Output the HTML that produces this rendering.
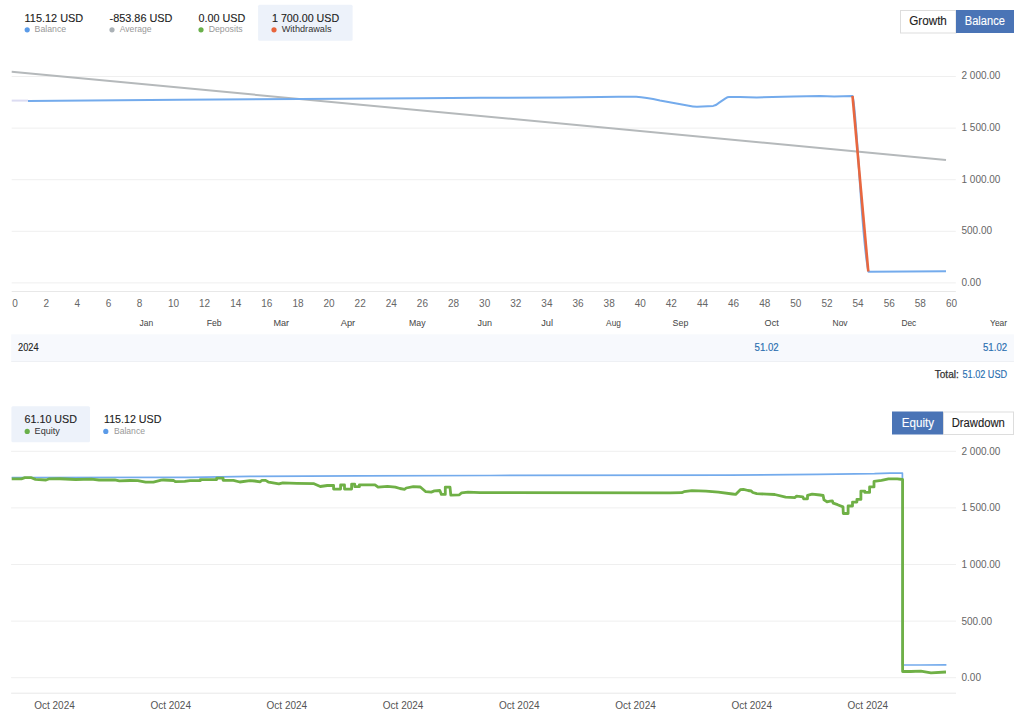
<!DOCTYPE html>
<html><head><meta charset="utf-8"><style>
html,body{margin:0;padding:0;background:#fff;width:1024px;height:715px;overflow:hidden}
svg{display:block;font-family:"Liberation Sans", sans-serif}
</style></head><body>
<svg width="1024" height="715" viewBox="0 0 1024 715">
<rect x="258.10" y="4.80" width="94.50" height="36.00" fill="#edf2fa" rx="1.5"/>
<text x="24.60" y="21.90" font-size="11" fill="#222" stroke="#222" stroke-width="0.12" font-weight="normal" textLength="58.60" lengthAdjust="spacingAndGlyphs">115.12 USD</text>
<text x="34.60" y="32.20" font-size="9" fill="#999" font-weight="normal" textLength="31.60" lengthAdjust="spacingAndGlyphs">Balance</text>
<circle cx="27.2" cy="29.8" r="2.6" fill="#5b9be8"/>
<text x="109.60" y="21.90" font-size="11" fill="#222" stroke="#222" stroke-width="0.12" font-weight="normal" textLength="62.80" lengthAdjust="spacingAndGlyphs">-853.86 USD</text>
<text x="119.80" y="32.20" font-size="9" fill="#999" font-weight="normal" textLength="31.70" lengthAdjust="spacingAndGlyphs">Average</text>
<circle cx="112" cy="29.8" r="2.6" fill="#aab1b6"/>
<text x="198.50" y="21.90" font-size="11" fill="#222" stroke="#222" stroke-width="0.12" font-weight="normal" textLength="46.80" lengthAdjust="spacingAndGlyphs">0.00 USD</text>
<text x="208.70" y="32.20" font-size="9" fill="#999" font-weight="normal" textLength="34.00" lengthAdjust="spacingAndGlyphs">Deposits</text>
<circle cx="201" cy="29.8" r="2.6" fill="#6ab04a"/>
<text x="272.00" y="21.90" font-size="11" fill="#222" stroke="#222" stroke-width="0.12" font-weight="normal" textLength="67.20" lengthAdjust="spacingAndGlyphs">1 700.00 USD</text>
<text x="281.70" y="32.20" font-size="9" fill="#333" font-weight="normal" textLength="49.90" lengthAdjust="spacingAndGlyphs">Withdrawals</text>
<circle cx="274" cy="29.8" r="2.6" fill="#e8643c"/>
<rect x="900.50" y="10.50" width="55.50" height="22.50" fill="#ffffff" stroke="#dddddd" stroke-width="1" rx="0"/>
<rect x="956.00" y="10.00" width="58.00" height="23.00" fill="#4a74b6" rx="0"/>
<text x="909.20" y="25.30" font-size="12" fill="#222" stroke="#222" stroke-width="0.12" font-weight="normal" textLength="37.70" lengthAdjust="spacingAndGlyphs">Growth</text>
<text x="964.80" y="25.30" font-size="12" fill="#ffffff" stroke="#ffffff" stroke-width="0.12" font-weight="normal" textLength="40.10" lengthAdjust="spacingAndGlyphs">Balance</text>
<line x1="11.7" y1="76.5" x2="955.8" y2="76.5" stroke="#efefef" stroke-width="1"/>
<line x1="11.7" y1="128.1" x2="955.8" y2="128.1" stroke="#efefef" stroke-width="1"/>
<line x1="11.7" y1="179.7" x2="955.8" y2="179.7" stroke="#efefef" stroke-width="1"/>
<line x1="11.7" y1="231.3" x2="955.8" y2="231.3" stroke="#efefef" stroke-width="1"/>
<line x1="11.7" y1="282.9" x2="955.8" y2="282.9" stroke="#efefef" stroke-width="1"/>
<line x1="11.7" y1="291.5" x2="955.8" y2="291.5" stroke="#e8e8e8" stroke-width="1"/>
<text x="961.5" y="79.05" font-size="10" fill="#666">2 000.00</text>
<text x="961.5" y="130.65" font-size="10" fill="#666">1 500.00</text>
<text x="961.5" y="182.75" font-size="10" fill="#666">1 000.00</text>
<text x="961.5" y="234.15" font-size="10" fill="#666">500.00</text>
<text x="961.5" y="286.10" font-size="10" fill="#666">0.00</text>
<text x="12.30" y="306.9" font-size="10" fill="#666">0</text>
<text x="43.42" y="306.9" font-size="10" fill="#666">2</text>
<text x="74.54" y="306.9" font-size="10" fill="#666">4</text>
<text x="105.66" y="306.9" font-size="10" fill="#666">6</text>
<text x="136.78" y="306.9" font-size="10" fill="#666">8</text>
<text x="167.90" y="306.9" font-size="10" fill="#666">10</text>
<text x="199.02" y="306.9" font-size="10" fill="#666">12</text>
<text x="230.14" y="306.9" font-size="10" fill="#666">14</text>
<text x="261.26" y="306.9" font-size="10" fill="#666">16</text>
<text x="292.38" y="306.9" font-size="10" fill="#666">18</text>
<text x="323.50" y="306.9" font-size="10" fill="#666">20</text>
<text x="354.62" y="306.9" font-size="10" fill="#666">22</text>
<text x="385.74" y="306.9" font-size="10" fill="#666">24</text>
<text x="416.86" y="306.9" font-size="10" fill="#666">26</text>
<text x="447.98" y="306.9" font-size="10" fill="#666">28</text>
<text x="479.10" y="306.9" font-size="10" fill="#666">30</text>
<text x="510.22" y="306.9" font-size="10" fill="#666">32</text>
<text x="541.34" y="306.9" font-size="10" fill="#666">34</text>
<text x="572.46" y="306.9" font-size="10" fill="#666">36</text>
<text x="603.58" y="306.9" font-size="10" fill="#666">38</text>
<text x="634.70" y="306.9" font-size="10" fill="#666">40</text>
<text x="665.82" y="306.9" font-size="10" fill="#666">42</text>
<text x="696.94" y="306.9" font-size="10" fill="#666">44</text>
<text x="728.06" y="306.9" font-size="10" fill="#666">46</text>
<text x="759.18" y="306.9" font-size="10" fill="#666">48</text>
<text x="790.30" y="306.9" font-size="10" fill="#666">50</text>
<text x="821.42" y="306.9" font-size="10" fill="#666">52</text>
<text x="852.54" y="306.9" font-size="10" fill="#666">54</text>
<text x="883.66" y="306.9" font-size="10" fill="#666">56</text>
<text x="914.78" y="306.9" font-size="10" fill="#666">58</text>
<text x="945.90" y="306.9" font-size="10" fill="#666">60</text>
<text x="139.50" y="325.90" font-size="9.8" fill="#4a4a4a" stroke="#4a4a4a" stroke-width="0.05" font-weight="normal" textLength="13.70" lengthAdjust="spacingAndGlyphs">Jan</text>
<text x="206.70" y="325.90" font-size="9.8" fill="#4a4a4a" stroke="#4a4a4a" stroke-width="0.05" font-weight="normal" textLength="14.90" lengthAdjust="spacingAndGlyphs">Feb</text>
<text x="273.50" y="325.90" font-size="9.8" fill="#4a4a4a" stroke="#4a4a4a" stroke-width="0.05" font-weight="normal" textLength="15.60" lengthAdjust="spacingAndGlyphs">Mar</text>
<text x="340.70" y="325.90" font-size="9.8" fill="#4a4a4a" stroke="#4a4a4a" stroke-width="0.05" font-weight="normal" textLength="14.50" lengthAdjust="spacingAndGlyphs">Apr</text>
<text x="409.00" y="325.90" font-size="9.8" fill="#4a4a4a" stroke="#4a4a4a" stroke-width="0.05" font-weight="normal" textLength="16.50" lengthAdjust="spacingAndGlyphs">May</text>
<text x="477.40" y="325.90" font-size="9.8" fill="#4a4a4a" stroke="#4a4a4a" stroke-width="0.05" font-weight="normal" textLength="14.50" lengthAdjust="spacingAndGlyphs">Jun</text>
<text x="541.20" y="325.90" font-size="9.8" fill="#4a4a4a" stroke="#4a4a4a" stroke-width="0.05" font-weight="normal" textLength="11.80" lengthAdjust="spacingAndGlyphs">Jul</text>
<text x="606.10" y="325.90" font-size="9.8" fill="#4a4a4a" stroke="#4a4a4a" stroke-width="0.05" font-weight="normal" textLength="14.80" lengthAdjust="spacingAndGlyphs">Aug</text>
<text x="672.60" y="325.90" font-size="9.8" fill="#4a4a4a" stroke="#4a4a4a" stroke-width="0.05" font-weight="normal" textLength="15.70" lengthAdjust="spacingAndGlyphs">Sep</text>
<text x="764.60" y="325.90" font-size="9.8" fill="#4a4a4a" stroke="#4a4a4a" stroke-width="0.05" font-weight="normal" textLength="14.10" lengthAdjust="spacingAndGlyphs">Oct</text>
<text x="832.60" y="325.90" font-size="9.8" fill="#4a4a4a" stroke="#4a4a4a" stroke-width="0.05" font-weight="normal" textLength="15.00" lengthAdjust="spacingAndGlyphs">Nov</text>
<text x="901.40" y="325.90" font-size="9.8" fill="#4a4a4a" stroke="#4a4a4a" stroke-width="0.05" font-weight="normal" textLength="14.80" lengthAdjust="spacingAndGlyphs">Dec</text>
<text x="990.10" y="325.90" font-size="9.8" fill="#4a4a4a" stroke="#4a4a4a" stroke-width="0.05" font-weight="normal" textLength="17.00" lengthAdjust="spacingAndGlyphs">Year</text>
<rect x="11.20" y="334.30" width="1002.70" height="27.30" fill="#f7f9fd" rx="0"/>
<line x1="11.2" y1="361.5" x2="1013.9" y2="361.5" stroke="#eef0f4" stroke-width="1"/>
<text x="18.00" y="351.00" font-size="10" fill="#222" stroke="#222" stroke-width="0.1" font-weight="normal" textLength="20.60" lengthAdjust="spacingAndGlyphs">2024</text>
<text x="754.60" y="351.20" font-size="10" fill="#2a6fb0" stroke="#2a6fb0" stroke-width="0.15" font-weight="normal" textLength="24.10" lengthAdjust="spacingAndGlyphs">51.02</text>
<text x="983.00" y="351.20" font-size="10" fill="#2a6fb0" stroke="#2a6fb0" stroke-width="0.15" font-weight="normal" textLength="24.10" lengthAdjust="spacingAndGlyphs">51.02</text>
<text x="934.70" y="378.40" font-size="10" fill="#333" stroke="#333" stroke-width="0.25" font-weight="normal" textLength="24.10" lengthAdjust="spacingAndGlyphs">Total:</text>
<text x="962.50" y="378.40" font-size="10" fill="#2a6fb0" stroke="#2a6fb0" stroke-width="0.15" font-weight="normal" textLength="44.60" lengthAdjust="spacingAndGlyphs">51.02 USD</text>
<path d="M11.7,71.8 L946,159.9" fill="none" stroke="#b5b9bb" stroke-width="2" stroke-linejoin="round" stroke-linecap="butt" />
<path d="M11.7,100.6 L28,100.6" fill="none" stroke="#dcdcf2" stroke-width="2" stroke-linejoin="round" stroke-linecap="butt" />
<path d="M28,100.6 C100,100.1 140,99.8 180,99.5 S380,98.2 420,97.9 S540,97.3 560,97.2 L600,96.7 L618.6,96.5 L636.2,96.5 C645,97 650,98 660,100.2 L688.8,105.4 C692,106.2 694,106.4 697,106.4 L713.2,105.6 C715.5,105 716.5,104.5 718.1,103.1 L725.9,97.8 C727,97 728,96.6 729,96.6 L740,96.6 L756.7,97.1 L793.5,96.2 L820.1,95.8 L834.1,96.2 L852.5,95.8 C857,105 861,240 868.5,271.5 L946,271.0" fill="none" stroke="#74abec" stroke-width="2" stroke-linejoin="round" stroke-linecap="butt" transform="translate(0,0.3)"/>
<path d="M852.5,95.8 L868.3,271.5" fill="none" stroke="#e8673f" stroke-width="2.6" stroke-linejoin="round" stroke-linecap="butt" />
<rect x="11.40" y="406.20" width="78.60" height="36.00" fill="#edf2fa" rx="1.5"/>
<text x="24.60" y="423.40" font-size="11" fill="#222" stroke="#222" stroke-width="0.12" font-weight="normal" textLength="52.40" lengthAdjust="spacingAndGlyphs">61.10 USD</text>
<text x="34.60" y="433.60" font-size="9" fill="#333" font-weight="normal" textLength="25.20" lengthAdjust="spacingAndGlyphs">Equity</text>
<circle cx="27.2" cy="431.4" r="2.6" fill="#6ab04a"/>
<text x="104.00" y="423.40" font-size="11" fill="#222" stroke="#222" stroke-width="0.12" font-weight="normal" textLength="57.40" lengthAdjust="spacingAndGlyphs">115.12 USD</text>
<text x="113.90" y="433.60" font-size="9" fill="#999" font-weight="normal" textLength="31.10" lengthAdjust="spacingAndGlyphs">Balance</text>
<circle cx="105.8" cy="431.4" r="2.6" fill="#5b9be8"/>
<rect x="892.00" y="411.50" width="51.00" height="23.00" fill="#4a74b6" rx="0"/>
<rect x="943.50" y="412.00" width="70.00" height="22.50" fill="#ffffff" stroke="#dddddd" stroke-width="1" rx="0"/>
<text x="901.80" y="426.70" font-size="12" fill="#ffffff" stroke="#ffffff" stroke-width="0.12" font-weight="normal" textLength="32.30" lengthAdjust="spacingAndGlyphs">Equity</text>
<text x="951.70" y="426.70" font-size="12" fill="#222" stroke="#222" stroke-width="0.12" font-weight="normal" textLength="53.20" lengthAdjust="spacingAndGlyphs">Drawdown</text>
<line x1="11.1" y1="451.3" x2="956" y2="451.3" stroke="#efefef" stroke-width="1"/>
<line x1="11.1" y1="507.9" x2="956" y2="507.9" stroke="#efefef" stroke-width="1"/>
<line x1="11.1" y1="564.5" x2="956" y2="564.5" stroke="#efefef" stroke-width="1"/>
<line x1="11.1" y1="621.1" x2="956" y2="621.1" stroke="#efefef" stroke-width="1"/>
<line x1="11.1" y1="677.7" x2="956" y2="677.7" stroke="#efefef" stroke-width="1"/>
<line x1="11.1" y1="693.2" x2="956" y2="693.2" stroke="#e8e8e8" stroke-width="1"/>
<text x="961.5" y="454.80" font-size="10" fill="#666">2 000.00</text>
<text x="961.5" y="511.40" font-size="10" fill="#666">1 500.00</text>
<text x="961.5" y="568.00" font-size="10" fill="#666">1 000.00</text>
<text x="961.5" y="624.60" font-size="10" fill="#666">500.00</text>
<text x="961.5" y="681.20" font-size="10" fill="#666">0.00</text>
<text x="54.50" y="708.7" font-size="10" fill="#555" text-anchor="middle">Oct 2024</text>
<text x="170.70" y="708.7" font-size="10" fill="#555" text-anchor="middle">Oct 2024</text>
<text x="286.90" y="708.7" font-size="10" fill="#555" text-anchor="middle">Oct 2024</text>
<text x="403.10" y="708.7" font-size="10" fill="#555" text-anchor="middle">Oct 2024</text>
<text x="519.30" y="708.7" font-size="10" fill="#555" text-anchor="middle">Oct 2024</text>
<text x="635.50" y="708.7" font-size="10" fill="#555" text-anchor="middle">Oct 2024</text>
<text x="751.70" y="708.7" font-size="10" fill="#555" text-anchor="middle">Oct 2024</text>
<text x="867.90" y="708.7" font-size="10" fill="#555" text-anchor="middle">Oct 2024</text>
<path d="M11.70,477.50 L190.00,477.30 L250.00,476.40 L360.00,475.80 L490.00,475.50 L730.00,475.10 L818.00,474.30 L874.50,473.70 L890.30,473.10 L902.40,473.10 L902.40,664.80 L920.00,665.00 L946.40,664.90" fill="none" stroke="#74abec" stroke-width="1.7" stroke-linejoin="round" stroke-linecap="butt" />
<path d="M11.70,478.80 L21.40,478.80 L24.90,477.70 L31.40,477.70 L35.50,479.40 L46.00,480.00 L49.50,478.80 L60.00,478.75 L75.60,479.50 L91.25,479.20 L99.00,480.00 L114.70,479.80 L119.40,480.90 L130.00,480.50 L137.80,480.60 L145.60,482.10 L153.40,482.10 L161.25,480.20 L163.60,480.00 L173.75,480.50 L175.30,481.70 L184.70,481.30 L190.00,480.70 L200.30,480.70 L200.30,479.60 L216.70,479.60 L216.70,478.20 L223.10,478.20 L223.10,480.30 L233.40,480.30 L239.80,482.00 L250.00,480.60 L254.70,481.00 L260.20,481.80 L261.70,480.40 L265.60,480.40 L268.75,482.20 L278.90,483.90 L282.80,482.90 L296.90,483.30 L314.00,483.70 L320.30,486.50 L327.30,485.50 L333.60,485.50 L333.60,489.10 L340.60,489.10 L340.60,485.00 L344.50,485.00 L344.50,489.10 L351.60,489.10 L351.60,484.20 L354.70,484.20 L354.70,486.70 L359.40,486.70 L359.40,484.80 L375.00,484.80 L378.10,487.10 L387.50,486.30 L395.30,487.10 L400.00,488.50 L404.70,489.30 L406.25,488.00 L413.30,486.60 L420.30,487.00 L425.80,491.70 L431.25,492.10 L434.40,490.90 L439.80,490.50 L441.40,494.40 L445.30,494.40 L445.30,487.20 L450.00,487.20 L450.80,495.20 L459.40,494.80 L461.70,492.80 L468.00,492.10 L480.00,492.70 L670.00,492.80 L681.70,492.70 L684.00,491.70 L691.90,490.70 L705.90,491.10 L718.40,492.20 L732.50,494.00 L735.60,494.40 L740.30,489.70 L743.40,489.30 L748.10,490.50 L751.25,491.00 L752.80,492.50 L756.70,493.70 L766.90,494.10 L774.70,494.50 L785.60,497.20 L795.00,497.60 L796.60,496.10 L802.80,496.80 L803.60,498.80 L807.50,498.80 L807.50,495.30 L812.20,494.10 L820.00,495.00 L823.10,495.50 L824.00,499.90 L827.00,501.80 L830.10,501.20 L832.30,500.80 L833.20,503.20 L837.60,504.70 L843.00,506.90 L843.30,513.50 L848.10,513.50 L848.10,506.00 L852.50,506.00 L852.50,502.10 L856.90,502.10 L856.90,499.40 L860.90,499.40 L860.90,491.10 L864.80,491.10 L864.80,492.40 L869.60,492.40 L869.60,486.90 L874.00,486.90 L874.00,481.40 L881.50,480.40 L888.50,478.80 L897.30,478.80 L902.60,479.50 L902.60,671.50 L910.50,671.50 L920.80,671.20 L931.00,672.90 L946.00,672.00" fill="none" stroke="#6fb046" stroke-width="2.8" stroke-linejoin="round" stroke-linecap="butt" />
</svg>
</body></html>
